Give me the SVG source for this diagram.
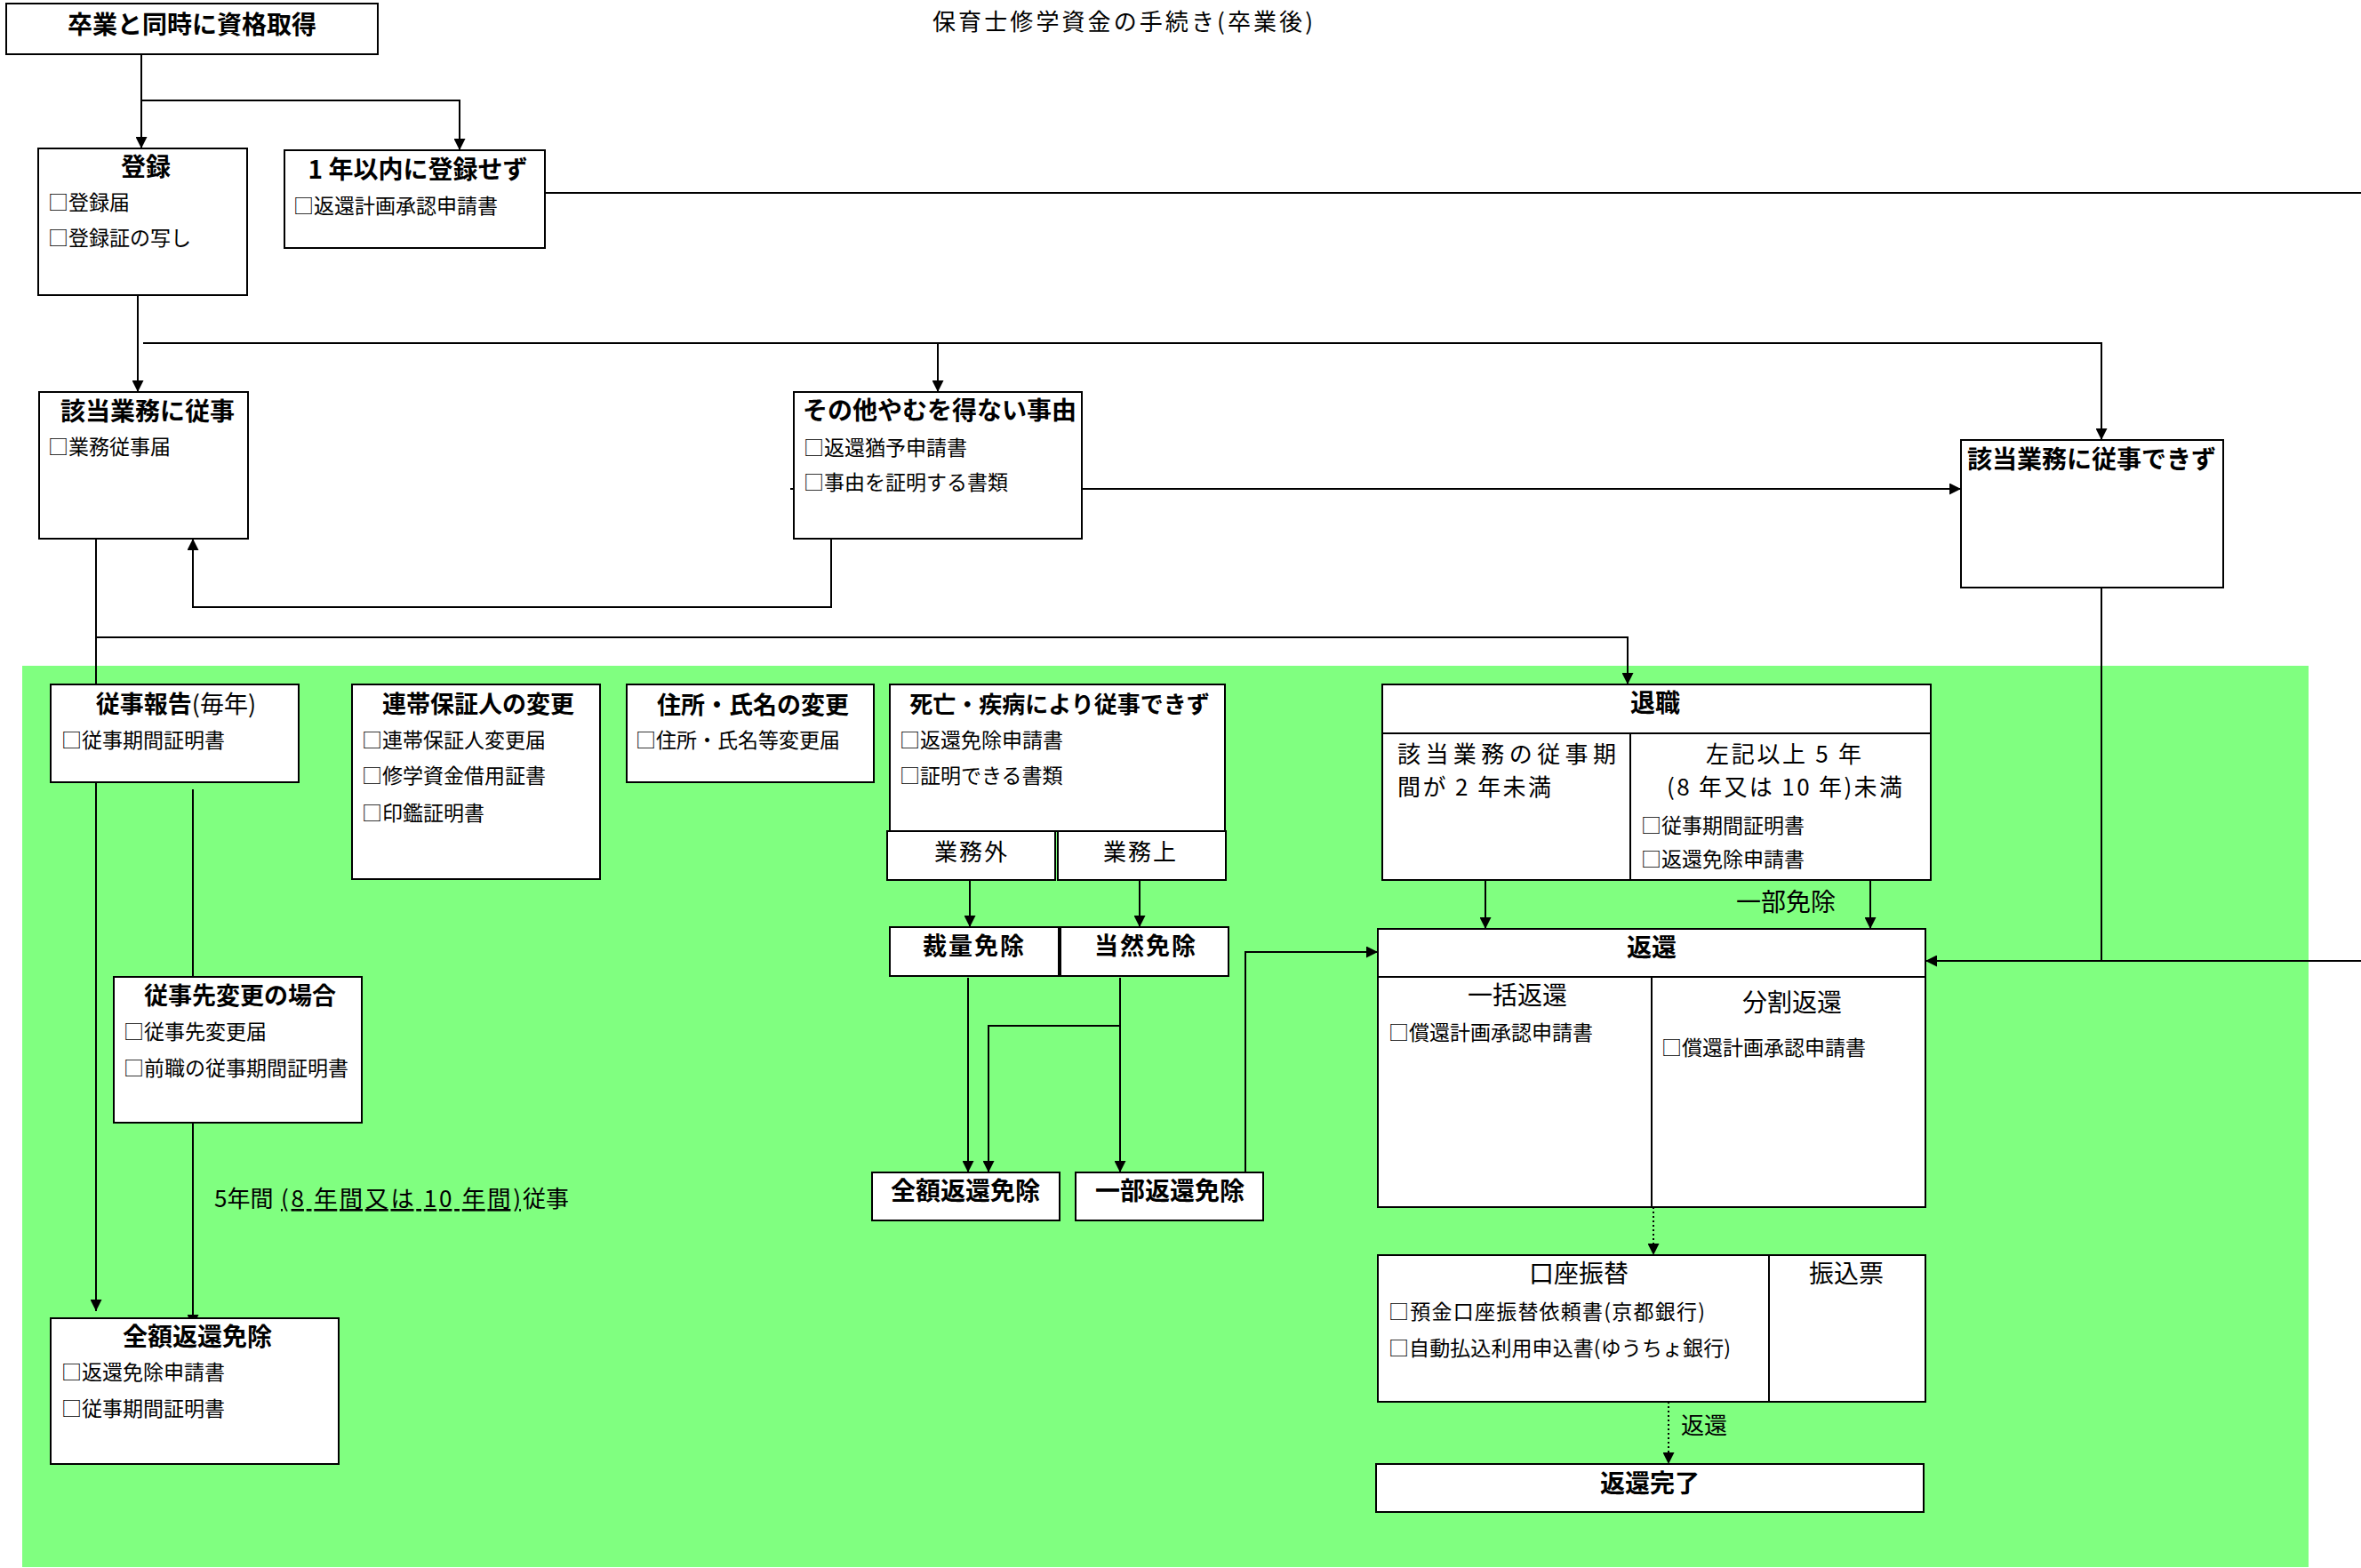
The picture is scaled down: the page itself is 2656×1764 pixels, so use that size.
<svg xmlns="http://www.w3.org/2000/svg" width="2656" height="1764" viewBox="0 0 2656 1764">
<style>
.box{fill:#fff;stroke:#000;stroke-width:2}
.sep{fill:none;stroke:#000;stroke-width:2}
.ln{fill:none;stroke:#000;stroke-width:2}
.dot{stroke-dasharray:2 3}
text{font-family:"Noto Sans CJK JP","Noto Sans CJK SC",sans-serif;fill:#000}
.h{font-size:27px;font-weight:bold}
.h28{font-size:28px;font-weight:bold}
.i{font-size:23px}
.n{font-size:27px}
.c{text-anchor:middle}
</style>
<defs>
<marker id="arr" viewBox="0 0 10 10" refX="10" refY="5" markerWidth="14" markerHeight="13" orient="auto" markerUnits="userSpaceOnUse"><path d="M0,0 L10,5 L0,10 z" fill="#000"/></marker>
</defs>
<rect x="0" y="0" width="2656" height="1764" fill="#fff"/>
<rect id="zone" x="25" y="749" width="2572" height="1014" fill="#80ff80"/>
<text class="n" x="1049" y="34" style="font-size:26px" textLength="428" lengthAdjust="spacing">保育士修学資金の手続き(卒業後)</text>

<g id="connectors">
<path class="ln" d="M159,61 V167" marker-end="url(#arr)"/>
<path class="ln" d="M159,113 H517 V169" marker-end="url(#arr)"/>
<path class="ln" d="M613,217 H2656"/>
<path class="ln" d="M155,332 V441" marker-end="url(#arr)"/>
<path class="ln" d="M161,386 H2364 V495" marker-end="url(#arr)"/>
<path class="ln" d="M1055,386 V441" marker-end="url(#arr)"/>
<path class="ln" d="M1217,550 H2206" marker-end="url(#arr)"/>
<path class="ln" d="M889,550 H893"/>
<path class="ln" d="M935,606 V683 H217 V606" marker-end="url(#arr)"/>
<path class="ln" d="M108,606 V1475" marker-end="url(#arr)"/>
<path class="ln" d="M108,717 H1831 V770" marker-end="url(#arr)"/>
<path class="ln" d="M217,888 V1099"/>
<path class="ln" d="M217,1263 V1492" marker-end="url(#arr)"/>
<path class="ln" d="M1091,990 V1043" marker-end="url(#arr)"/>
<path class="ln" d="M1282,990 V1043" marker-end="url(#arr)"/>
<path class="ln" d="M1089,1100 V1319" marker-end="url(#arr)"/>
<path class="ln" d="M1260,1100 V1319" marker-end="url(#arr)"/>
<path class="ln" d="M1260,1154 H1112 V1319" marker-end="url(#arr)"/>
<path class="ln" d="M1401,1319 V1071 H1550" marker-end="url(#arr)"/>
<path class="ln" d="M1671,990 V1045" marker-end="url(#arr)"/>
<path class="ln" d="M2104,990 V1045" marker-end="url(#arr)"/>
<path class="ln" d="M2364,661 V1081"/>
<path class="ln" d="M2656,1081 H2166" marker-end="url(#arr)"/>
<path class="ln dot" d="M1860,1358 V1412" marker-end="url(#arr)"/>
<path class="ln dot" d="M1877,1577 V1647" marker-end="url(#arr)"/>
<text x="241" y="1358" style="font-size:26px">5年間</text>
<text x="316" y="1358" style="font-size:26px" text-decoration="underline" textLength="270" lengthAdjust="spacing">(8 年間又は 10 年間)</text>
<text x="588" y="1358" style="font-size:26px">従事</text>
<text class="n" x="1953" y="1025" style="font-size:28px">一部免除</text>
<text class="n" x="1891" y="1613" style="font-size:26px">返還</text>
</g>

<g id="n-start">
<rect class="box" x="7" y="4" width="418" height="57"/>
<text class="h28 c" x="216" y="38">卒業と同時に資格取得</text>
</g>

<g id="n-touroku">
<rect class="box" x="43" y="167" width="235" height="165"/>
<text class="h28 c" x="164" y="198">登録</text>
<text class="i" x="54" y="236">□登録届</text>
<text class="i" x="54" y="276">□登録証の写し</text>
</g>

<g id="n-1nen">
<rect class="box" x="320" y="169" width="293" height="110"/>
<text class="h28 c" x="470" y="201">1 年以内に登録せず</text>
<text class="i" x="330" y="240">□返還計画承認申請書</text>
</g>

<g id="n-juuji">
<rect class="box" x="44" y="441" width="235" height="165"/>
<text class="h28 c" x="166" y="473">該当業務に従事</text>
<text class="i" x="54" y="511">□業務従事届</text>
</g>

<g id="n-sonota">
<rect class="box" x="893" y="441" width="324" height="165"/>
<text class="h28" x="903" y="472">その他やむを得ない事由</text>
<text class="i" x="904" y="512">□返還猶予申請書</text>
<text class="i" x="904" y="551">□事由を証明する書類</text>
</g>

<g id="n-dekizu">
<rect class="box" x="2206" y="495" width="295" height="166"/>
<text class="h28 c" x="2353" y="527">該当業務に従事できず</text>
</g>

<g id="n-houkoku">
<rect class="box" x="57" y="770" width="279" height="110"/>
<text class="h c" x="198" y="802">従事報告<tspan font-weight="normal">(毎年)</tspan></text>
<text class="i" x="69" y="841">□従事期間証明書</text>
</g>

<g id="n-rentai">
<rect class="box" x="396" y="770" width="279" height="219"/>
<text class="h c" x="538" y="802">連帯保証人の変更</text>
<text class="i" x="407" y="841">□連帯保証人変更届</text>
<text class="i" x="407" y="881">□修学資金借用証書</text>
<text class="i" x="407" y="923">□印鑑証明書</text>
</g>

<g id="n-jusho">
<rect class="box" x="705" y="770" width="278" height="110"/>
<text class="h c" x="847" y="803">住所・氏名の変更</text>
<text class="i" x="715" y="841">□住所・氏名等変更届</text>
</g>

<g id="n-shibou">
<rect class="box" x="1001" y="770" width="377" height="165"/>
<text class="c" x="1192" y="802" style="font-size:26px;font-weight:bold">死亡・疾病により従事できず</text>
<text class="i" x="1012" y="841">□返還免除申請書</text>
<text class="i" x="1012" y="881">□証明できる書類</text>
</g>

<g id="n-gyoumugai">
<rect class="box" x="998" y="935" width="189" height="55"/>
<text class="c" x="1093" y="968" style="font-size:26px;letter-spacing:2px">業務外</text>
</g>

<g id="n-gyoumujou">
<rect class="box" x="1190" y="935" width="189" height="55"/>
<text class="c" x="1283" y="968" style="font-size:26px;letter-spacing:2px">業務上</text>
</g>

<g id="n-sairyou">
<rect class="box" x="1001" y="1043" width="190" height="55"/>
<text class="h c" x="1096" y="1074" style="letter-spacing:2px">裁量免除</text>
</g>

<g id="n-touzen">
<rect class="box" x="1193" y="1043" width="189" height="55"/>
<text class="h c" x="1289" y="1074" style="letter-spacing:2px">当然免除</text>
</g>

<g id="n-zengaku-s">
<rect class="box" x="981" y="1319" width="211" height="54"/>
<text class="h28 c" x="1086" y="1350">全額返還免除</text>
</g>

<g id="n-ichibu">
<rect class="box" x="1210" y="1319" width="211" height="54"/>
<text class="h28 c" x="1316" y="1350">一部返還免除</text>
</g>

<g id="n-taishoku">
<rect class="box" x="1555" y="770" width="617" height="220"/>
<path class="sep" d="M1555,825 H2172 M1834,825 V990"/>
<text class="h28 c" x="1862" y="801">退職</text>
<text x="1572" y="858" style="font-size:26px" textLength="246" lengthAdjust="spacing">該当業務の従事期</text>
<text x="1572" y="895" style="font-size:26px" textLength="173" lengthAdjust="spacing">間が 2 年未満</text>
<text x="1919" y="858" style="font-size:26px" textLength="175" lengthAdjust="spacing">左記以上 5 年</text>
<text x="1875" y="895" style="font-size:26px" textLength="265" lengthAdjust="spacing">(8 年又は 10 年)未満</text>
<text class="i" x="1846" y="937">□従事期間証明書</text>
<text class="i" x="1846" y="975">□返還免除申請書</text>
</g>

<g id="n-henkan">
<rect class="box" x="1550" y="1045" width="616" height="313"/>
<path class="sep" d="M1550,1099 H2166 M1858,1099 V1358"/>
<text class="h28 c" x="1858" y="1076">返還</text>
<text class="c" x="1707" y="1130" style="font-size:28px">一括返還</text>
<text class="i" x="1562" y="1170">□償還計画承認申請書</text>
<text class="c" x="2016" y="1138" style="font-size:28px">分割返還</text>
<text class="i" x="1869" y="1187">□償還計画承認申請書</text>
</g>

<g id="n-kouza">
<rect class="box" x="1550" y="1412" width="616" height="165"/>
<path class="sep" d="M1990,1412 V1577"/>
<text class="c" x="1776" y="1443" style="font-size:28px">口座振替</text>
<text class="i" x="1562" y="1484" textLength="356" lengthAdjust="spacing">□預金口座振替依頼書(京都銀行)</text>
<text class="i" x="1562" y="1525" textLength="385" lengthAdjust="spacing">□自動払込利用申込書(ゆうちょ銀行)</text>
<text class="c" x="2077" y="1443" style="font-size:28px">振込票</text>
</g>

<g id="n-kanryou">
<rect class="box" x="1548" y="1647" width="616" height="54"/>
<text class="h28 c" x="1856" y="1679">返還完了</text>
</g>

<g id="n-senhenkou">
<rect class="box" x="128" y="1099" width="279" height="164"/>
<text class="h c" x="270" y="1130">従事先変更の場合</text>
<text class="i" x="139" y="1169">□従事先変更届</text>
<text class="i" x="139" y="1210">□前職の従事期間証明書</text>
</g>

<g id="n-zengaku-l">
<rect class="box" x="57" y="1483" width="324" height="164"/>
<text class="h28 c" x="222" y="1514">全額返還免除</text>
<text class="i" x="69" y="1552">□返還免除申請書</text>
<text class="i" x="69" y="1593">□従事期間証明書</text>
</g>
</svg>
